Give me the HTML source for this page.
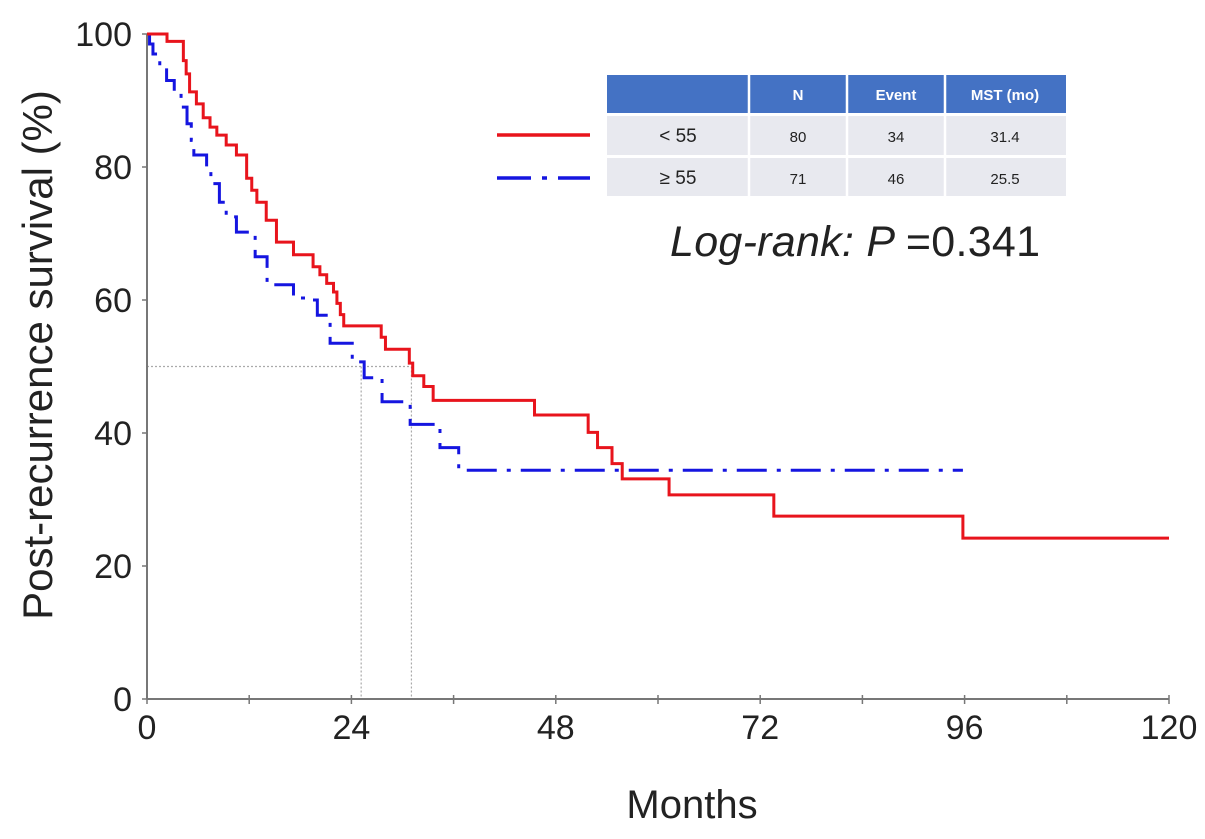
<!DOCTYPE html>
<html><head><meta charset="utf-8"><style>
body{margin:0;background:#fff;}
svg{display:block;font-family:"Liberation Sans",sans-serif;}
</style></head><body>
<svg id="chart" width="1205" height="839" viewBox="0 0 1205 839">
<g id="grid"></g><g id="axes"></g><g id="series"></g>
<g id="legend">
  <rect x="607" y="75" width="459" height="38" fill="#4472c4"/>
  <rect x="607" y="116" width="459" height="39" fill="#e8e9ef"/>
  <rect x="607" y="158" width="459" height="38" fill="#e8e9ef"/>
  <g stroke="#fff" stroke-width="2.5">
    <line x1="749" y1="75" x2="749" y2="196"/><line x1="847" y1="75" x2="847" y2="196"/><line x1="945" y1="75" x2="945" y2="196"/>
  </g>
  <g font-size="15" fill="#fff" text-anchor="middle" font-weight="bold">
    <text x="798" y="100">N</text>
    <text x="896" y="100">Event</text>
    <text x="1005" y="100">MST (mo)</text>
  </g>
  <g font-size="15" fill="#222" text-anchor="middle">
    <text x="678" y="142" font-size="19">&lt; 55</text>
    <text x="798" y="142">80</text>
    <text x="896" y="142">34</text>
    <text x="1005" y="142">31.4</text>
    <text x="678" y="184" font-size="19">≥ 55</text>
    <text x="798" y="184">71</text>
    <text x="896" y="184">46</text>
    <text x="1005" y="184">25.5</text>
  </g>
  <line x1="497" y1="135" x2="590" y2="135" stroke="#e8141c" stroke-width="3.5"/>
  <line x1="497" y1="178" x2="590" y2="178" stroke="#1515e0" stroke-width="3.5" stroke-dasharray="34,11,5,11"/>
</g>
<text x="670" y="256" font-size="43" fill="#222" textLength="370"><tspan font-style="italic">Log-rank: P </tspan>=0.341</text>
<text x="692" y="818" font-size="40" text-anchor="middle" fill="#222">Months</text>
<text transform="translate(52,355) rotate(-90)" font-size="42" text-anchor="middle" fill="#222">Post-recurrence survival (%)</text>
</svg>
<script>
const xTicks=[0,24,48,72,96,120];
const yTicks=[0,20,40,60,80,100];
const redT=[0,2.35,4.27,4.6,5.0,5.8,6.6,7.4,8.2,9.3,10.5,11.7,12.3,12.9,14.0,15.2,17.2,19.5,20.3,21.1,21.9,22.3,22.7,23.1,27.5,28.0,30.8,31.2,32.5,33.6,45.5,51.8,52.9,54.6,55.8,61.3,73.6,95.8];
const redS=[100,98.9,96,94,91.3,89.5,87.4,86,84.8,83.3,81.8,78.3,76.5,74.7,72,68.7,66.8,65,63.8,62.5,61.2,59.5,57.8,56.1,54.4,52.6,50.5,48.6,47,44.9,42.7,40.1,37.8,35.4,33.1,30.7,27.5,24.2];
const redEnd=120;
const blueT=[0,0.3,0.7,1.5,2.3,3.2,4.0,4.7,5.2,5.5,7.0,7.5,8.5,9.3,10.5,12.7,14.1,17.2,19.0,20.0,21.5,24.1,25.5,27.6,30.9,34.4,36.6];
const blueS=[100,98.5,97,95,93,91,89,86.5,84,81.8,79.5,77.5,74.7,72.5,70.2,66.5,62.3,60.3,60,57.7,53.5,50.7,48.3,44.7,41.3,37.8,34.4];
const blueEnd=95.8;
const medians=[25.5,31.4];
const X=v=>147+v*(1022/120), Y=v=>699-v*6.65;
const NS='http://www.w3.org/2000/svg';
function mk(tag,attrs,parent){const e=document.createElementNS(NS,tag);for(const k in attrs)e.setAttribute(k,attrs[k]);parent.appendChild(e);return e;}
const ax=document.getElementById('axes'), gr=document.getElementById('grid'), se=document.getElementById('series');
let g1=mk('line',{x1:X(0),y1:Y(50),x2:X(31.0),y2:Y(50),stroke:'#aaa','stroke-width':1.2,'stroke-dasharray':'2,2'},gr);


medians.forEach(m=>{const l=mk('line',{x1:X(m)-3,y1:Y(50),x2:X(m)-3,y2:Y(0),stroke:'#aaa','stroke-width':1.2,'stroke-dasharray':'2,2'},gr);

});
let xa=mk('line',{x1:X(0),y1:Y(0),x2:X(120),y2:Y(0),stroke:'#777','stroke-width':2},ax);


let ya=mk('line',{x1:X(0),y1:Y(0),x2:X(0),y2:Y(100),stroke:'#777','stroke-width':2},ax);


for(let m=0;m<=120;m+=12){mk('line',{x1:X(m),y1:Y(0)-4,x2:X(m),y2:Y(0)+5,stroke:'#777','stroke-width':1.5},ax);}
xTicks.forEach(t=>{const e=mk('text',{x:X(t),y:739,'font-size':34,'text-anchor':'middle',fill:'#222'},ax);e.textContent=t;

});
yTicks.forEach(t=>{mk('line',{x1:X(0)-5,y1:Y(t),x2:X(0),y2:Y(t),stroke:'#777','stroke-width':1.5},ax);
const e=mk('text',{x:132,y:Y(t)+12,'font-size':34,'text-anchor':'end',fill:'#222'},ax);e.textContent=t;

});
function stepPath(T,S,end){let d='M'+X(T[0])+','+Y(S[0]);for(let i=1;i<T.length;i++){d+=' H'+X(T[i])+' V'+Y(S[i]);}d+=' H'+X(end);return d;}
let bp=mk('path',{d:stepPath(blueT,blueS,blueEnd),fill:'none',stroke:'#1515e0','stroke-width':3,'stroke-dasharray':'30,10,4,10'},se);


let rp=mk('path',{d:stepPath(redT,redS,redEnd),fill:'none',stroke:'#e8141c','stroke-width':3},se);


</script>
</body></html>
